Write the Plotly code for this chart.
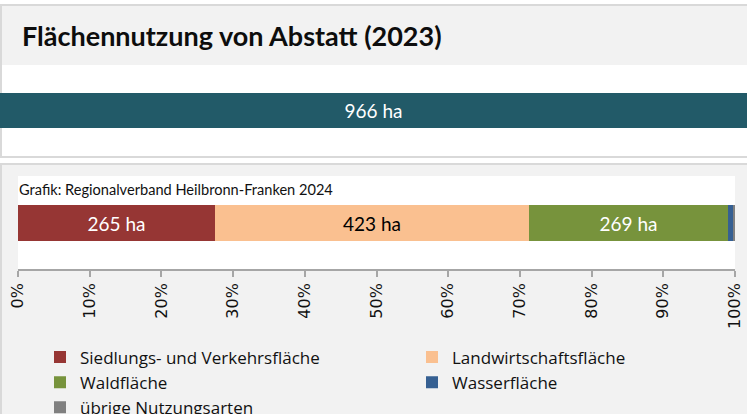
import plotly.graph_objects as go

# Land use of Abstatt, 2023 (hectares)
categories = [
    "Siedlungs- und Verkehrsfläche",
    "Landwirtschaftsfläche",
    "Waldfläche",
    "Wasserfläche",
    "übrige Nutzungsarten",
]
areas_ha = [265, 423, 269, 7, 2]
colors = ["#963634", "#fac090", "#77933c", "#366092", "#808080"]
label_colors = ["white", "black", "white", "white", "white"]
show_label = [True, True, True, False, False]

total_ha = 966
title_text = "Flächennutzung von Abstatt (2023)"
source_text = "Grafik: Regionalverband Heilbronn-Franken 2024"

W, H = 747, 414


def px_x(x):
    return x / W


def px_y(y):
    return 1 - y / H


TEXT_FONT = "Lato"
LEGEND_FONT = "Open Sans"

fig = go.Figure()

# Total area bar in the header panel
fig.add_trace(go.Bar(
    x=[total_ha], y=[0], orientation="h", width=1,
    marker=dict(color="#225a68", line=dict(width=0)),
    text=[f"{total_ha} ha"], textposition="inside", insidetextanchor="middle",
    textangle=0, textfont=dict(family=TEXT_FONT, size=19, color="white"),
    showlegend=False, hoverinfo="skip", xaxis="x", yaxis="y",
))

# Stacked composition bar
for name, val, col, tcol, show in zip(categories, areas_ha, colors, label_colors, show_label):
    fig.add_trace(go.Bar(
        x=[val], y=[0], orientation="h", width=1, name=name,
        marker=dict(color=col, line=dict(width=0)),
        text=[f"{val} ha" if show else ""], textposition="inside",
        insidetextanchor="middle", textangle=0,
        textfont=dict(family=TEXT_FONT, size=19, color=tcol),
        xaxis="x2", yaxis="y2",
    ))

shapes = [
    # header panel
    dict(type="rect", xref="paper", yref="paper", layer="below",
         x0=px_x(1), x1=px_x(760), y0=px_y(157), y1=px_y(5),
         fillcolor="white", line=dict(color="#d9d9d9", width=2)),
    dict(type="rect", xref="paper", yref="paper", layer="below",
         x0=px_x(2), x1=px_x(760), y0=px_y(65), y1=px_y(6),
         fillcolor="#f2f2f2", line=dict(width=0)),
    # chart panel
    dict(type="rect", xref="paper", yref="paper", layer="below",
         x0=px_x(1), x1=px_x(760), y0=px_y(430), y1=px_y(164),
         fillcolor="#f2f2f2", line=dict(color="#d9d9d9", width=2)),
    dict(type="rect", xref="paper", yref="paper", layer="below",
         x0=px_x(18), x1=px_x(735), y0=px_y(269), y1=px_y(176),
         fillcolor="white", line=dict(width=0)),
]

annotations = [
    dict(text=f"<b>{title_text}</b>", xref="paper", yref="paper",
         x=px_x(20), y=px_y(35), xanchor="left", yanchor="middle",
         showarrow=False, font=dict(family=TEXT_FONT, size=27, color="#0d0d0d")),
    dict(text=source_text, xref="paper", yref="paper",
         x=px_x(17), y=px_y(189), xanchor="left", yanchor="middle",
         showarrow=False, font=dict(family=TEXT_FONT, size=14.6, color="#111111")),
]

fig.update_layout(
    width=W, height=H,
    margin=dict(l=0, r=0, t=0, b=0, autoexpand=False),
    paper_bgcolor="white",
    plot_bgcolor="rgba(0,0,0,0)",
    barmode="stack",
    barnorm="percent",
    bargap=0,
    shapes=shapes,
    annotations=annotations,
    xaxis=dict(domain=[0, 1], range=[0, 100], visible=False, fixedrange=True),
    yaxis=dict(domain=[px_y(128), px_y(93)], range=[-0.5, 0.5], visible=False,
               fixedrange=True),
    xaxis2=dict(
        domain=[px_x(18), px_x(735)], range=[0, 100], anchor="y2",
        tickmode="linear", tick0=0, dtick=10, ticksuffix="%",
        tickangle=-90, ticks="outside", ticklen=6, tickwidth=1.5,
        tickcolor="#a6a6a6", showline=True, linecolor="#a6a6a6", linewidth=1.5,
        showgrid=False, zeroline=False,
        tickfont=dict(family="DejaVu Sans", size=16, color="#111111"),
        fixedrange=True,
    ),
    yaxis2=dict(domain=[px_y(269), px_y(176)], range=[-1.25, 1.278],
                visible=False, anchor="x2", fixedrange=True),
    legend=dict(
        orientation="h", x=px_x(40), y=px_y(339.5), xanchor="left", yanchor="top",
        entrywidth=327, entrywidthmode="pixels", traceorder="normal",
        bgcolor="rgba(0,0,0,0)",
        font=dict(family=LEGEND_FONT, size=17, color="#111111"),
    ),
    showlegend=True,
    uniformtext=dict(mode="show", minsize=8),
)

fig.write_html("out.html")
